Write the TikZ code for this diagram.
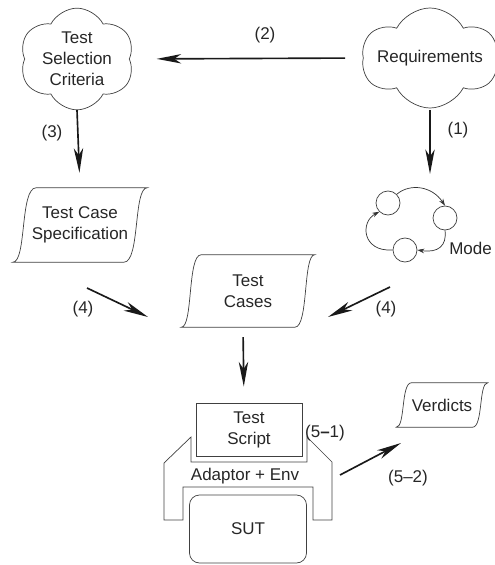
\documentclass[tikz,border=0pt]{standalone}
\usepackage{fontspec}
\setmainfont{Liberation Sans}
\usetikzlibrary{shapes.symbols,arrows.meta,positioning}

% wavy document outline around a node
\newcommand{\docshape}[2]{%
  \draw[line] (#1.south west) .. controls ([xshift={0.6*#2}]#1.south west) and ([xshift={0.3*#2}]#1.north west) .. ([xshift=#2]#1.north west)
    -- (#1.north east) .. controls ([xshift={-0.6*#2}]#1.north east) and ([xshift={-0.3*#2}]#1.south east) .. ([xshift=-#2]#1.south east)
    -- cycle;}

\begin{document}
\begin{tikzpicture}[x=0.03cm,y=0.03cm,
  every node/.style={font=\fontsize{14.5}{18}\selectfont,text=black!85},
  line/.style={draw=black!75,line width=0.6pt},
  arr/.style={draw=black!90,line width=1.4pt,-{Stealth[length=21pt,width=8pt,inset=6pt]}},
  marr/.style={draw=black!80,line width=0.6pt,-{Stealth[length=6pt,width=4pt]}},
  puff/.style={cloud,cloud puffs=6,cloud puff arc=125,cloud ignores aspect,draw=black!75,line width=0.6pt,align=center,inner sep=0pt},
  doc/.style={align=center,inner sep=0pt}]

\useasboundingbox (0,0) rectangle (494,-565);

% clouds
\node[puff,minimum width=3.45cm,minimum height=3.05cm] (crit) at (77,-59) {Test\\Selection\\Criteria};
\node[puff,minimum width=3.6cm,minimum height=3.0cm] (req) at (430,-58) {Requirements};

% documents
\node[doc,minimum width=4.02cm,minimum height=2.22cm] (spec) at (80,-225) {Test Case\\Specification};
\node[doc,minimum width=3.99cm,minimum height=2.16cm] (cases) at (248,-291) {Test\\Cases};
\node[doc,minimum width=2.73cm,minimum height=1.32cm] (verd) at (442,-405) {Verdicts};
\docshape{spec}{20pt}
\docshape{cases}{17pt}
\docshape{verd}{13pt}

% model
\node[circle,line,minimum size=0.72cm,inner sep=0pt] (s1) at (388,-203) {};
\node[circle,line,minimum size=0.72cm,inner sep=0pt] (s2) at (445,-218) {};
\node[circle,line,minimum size=0.72cm,inner sep=0pt] (s3) at (405,-250) {};
\node[anchor=east,inner sep=0pt] (model) at (492,-248) {Mode};
\draw[marr] (s1.north east) .. controls (410,-183) and (432,-186) .. (s2.north);
\draw[marr] (s2.south) .. controls (447,-246) and (438,-253) .. (s3.east);
\draw[marr] (s3.west) .. controls (362,-252) and (360,-222) .. (s1.south west);

% test script, adaptor, SUT
\node[draw=black!75,line width=0.6pt,minimum width=3.18cm,minimum height=1.59cm,align=center] (script) at (249,-430) {Test\\Script};
\draw[line] (191,-437) -- (191,-462) -- (307,-462) -- (307,-437) -- (332,-462) -- (332,-520)
  -- (313,-520) -- (313,-487) -- (183,-487) -- (183,-520) -- (164,-520) -- (164,-463) -- cycle;
\node (adapt) at (245,-476) {Adaptor + Env};
\node[draw=black!75,line width=0.6pt,rounded corners=0.3cm,minimum width=3.51cm,minimum height=2.04cm] (sut) at (248,-529) {SUT};

% arrow ends
\coordinate (m0) at (430,-110);
\coordinate (m1) at (430,-174);
\coordinate (p0) at (87,-288);
\coordinate (p1) at (148,-317);
\coordinate (q0) at (390,-287);
\coordinate (q1) at (328,-317);
\coordinate (r0) at (340,-475);
\coordinate (r1) at (401,-443);

\draw[arr,shorten <=0.54cm,shorten >=0.81cm] (req.west) -- (crit.east);
\draw[arr,shorten >=0.45cm] (crit.south) -- (spec.north);
\draw[arr] (m0) -- (m1);
\draw[arr] (p0) -- (p1);
\draw[arr] (q0) -- (q1);
\draw[arr,shorten <=0.3cm,shorten >=0.5cm] ([xshift=-0.15cm]cases.south) -- ([xshift=-0.15cm]script.north);
\draw[arr] (r0) -- (r1);

% labels
\node (l2) at (265,-35) {(2)};
\node (l3) at (52,-133) {(3)};
\node (l1) at (458,-130) {(1)};
\node (l4a) at (83,-309) {(4)};
\node (l4b) at (386,-309) {(4)};
\node (l51) at (325,-433) {(5\textbf{--}1)};
\node (l52) at (408,-478) {(5--2)};

\end{tikzpicture}
\end{document}
